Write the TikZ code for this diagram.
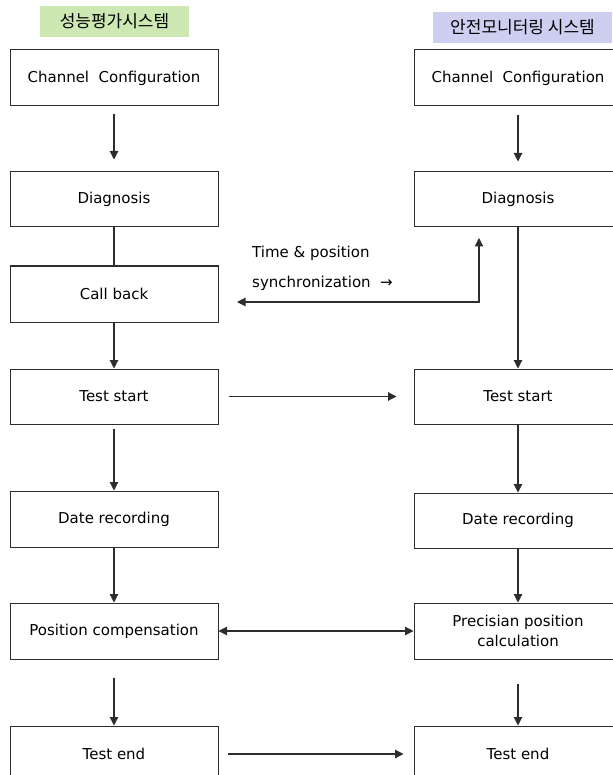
\documentclass[tikz,border=0pt]{standalone}
\usepackage{fontspec}
\setmainfont{DejaVu Sans}
\newfontfamily\kofont{Noto Sans CJK KR}
\usepackage{xcolor}
\definecolor{hgreen}{RGB}{206,232,180}
\definecolor{hpurple}{RGB}{206,206,240}
\definecolor{hline}{RGB}{45,45,45}
\usetikzlibrary{arrows.meta}
\usetikzlibrary{calc}

\begin{document}
\begin{tikzpicture}[x=1pt,y=-1pt,
  box/.style={draw=hline,line width=1pt,minimum width=208pt,minimum height=56pt,inner sep=0pt,align=center,font=\fontsize{15}{20}\selectfont},
  head/.style={inner sep=0pt,minimum height=31pt,font=\kofont\fontsize{17}{19}\selectfont},
  flow/.style={draw=hline,line width=1.1pt,-{Triangle[length=8.5pt,width=8.5pt]}},
  flow2/.style={flow,{Triangle[length=8.5pt,width=8.5pt]}-{Triangle[length=8.5pt,width=8.5pt]}},
  plain/.style={draw=hline,line width=1.1pt}]
\useasboundingbox (0,0) rectangle (612,775);
\node[head,fill=hgreen,minimum width=149pt] (hl) at (114.5,21.5) {성능평가시스템};
\node[head,fill=hpurple,minimum width=179pt] (hr) at (522.5,27.5) {안전모니터링 시스템};
\node[box] (lcc) at (114,78) {Channel\ \ Configuration};
\node[box,minimum height=55pt] (ldiag) at (114,199.5) {Diagnosis};
\node[box] (lcb) at (114,294) {Call back};
\node[box,minimum height=55pt] (lts) at (114,396.5) {Test start};
\node[box] (ldr) at (114,519) {Date recording};
\node[box] (lpc) at (114,631) {Position compensation};
\node[box] (lte) at (114,754) {Test end};
\node[box] (rcc) at (518,78) {Channel\ \ Configuration};
\node[box,minimum height=55pt] (rdiag) at (518,199.5) {Diagnosis};
\node[box,minimum height=55pt] (rts) at (518,396.5) {Test start};
\node[box,minimum height=55pt] (rdr) at (518,520.5) {Date recording};
\node[box] (rpc) at (518,631) {Precisian position\\calculation};
\node[box] (rte) at (518,754) {Test end};
\node[anchor=west,align=left,inner sep=0pt,font=\fontsize{15}{30}\selectfont] (synclbl) at (252,268) {Time \& position\\synchronization \ →};
\coordinate (cbin) at (237,302);
\coordinate (dgin) at (479,238);
\draw[flow,shorten <=8pt,shorten >=12pt] (lcc) -- (ldiag);
\draw[plain] (ldiag) -- (lcb);
\draw[flow] (lcb) -- (lts);
\draw[flow,shorten <=4pt] (lts) -- (ldr);
\draw[flow] (ldr) -- (lpc);
\draw[flow,shorten <=18pt] (lpc) -- (lte);
\draw[flow,shorten <=9pt,shorten >=10pt] (rcc) -- (rdiag);
\draw[flow] (rdiag) -- (rts);
\draw[flow] (rts) -- (rdr);
\draw[flow] (rdr) -- (rpc);
\draw[flow,shorten <=24pt] (rpc) -- (rte);
\draw[flow2] (cbin) -- (cbin -| dgin) -- (dgin);
\draw[flow,shorten <=10pt,shorten >=17pt] (lts) -- (rts);
\draw[flow2] (lpc) -- (rpc);
\draw[flow,shorten <=9pt,shorten >=10pt] (lte) -- (rte);
\end{tikzpicture}
\end{document}
